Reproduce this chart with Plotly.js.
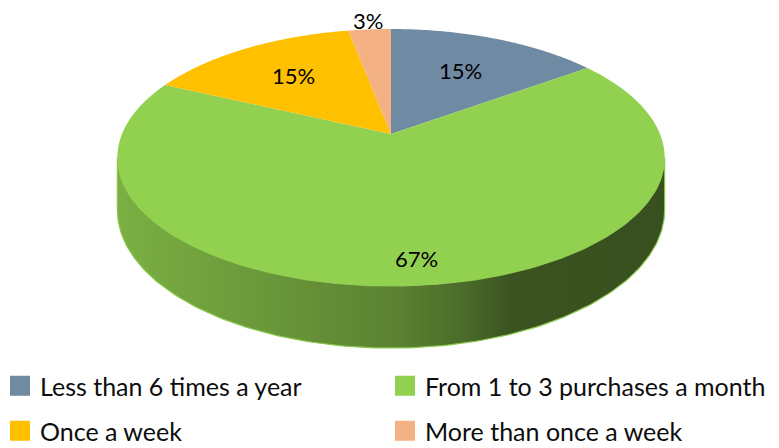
<!DOCTYPE html>
<html><head><meta charset="utf-8">
<script src="https://cdn.plot.ly/plotly-3.0.1.min.js"></script>
<style>html,body{margin:0;padding:0;background:#fff}#chart{width:779px;height:448px}</style>
</head><body><div id="chart"></div>
<script>
// ---- data ----
const categories = ["Less than 6 times a year", "From 1 to 3 purchases a month", "Once a week", "More than once a week"];
const values = [15, 67, 15, 3];
const colors = ["#6F8BA4", "#92D050", "#FFC000", "#F4B183"];

// ---- style ----
const labelRadius = [0.63, 0.85, 0.65, 1.1];
const legendOf = ["legend", "legend", "legend2", "legend2"];

const W = 779, H = 448;
const CX = 391, CY = 134, A = 269, B = 124.2, K = 0.183, T = 50.7;
const rad = d => d * Math.PI / 180;
function proj(theta, r) {
  const t = rad(theta);
  const u = r * Math.sin(t), v = r * Math.cos(t);
  const d = 1 + K * v;
  return [CX + A * u / d, CY - B * v / d];
}
function shade(hex, f) {
  const n = parseInt(hex.slice(1), 16);
  const r = Math.round(((n >> 16) & 255) * f), g = Math.round(((n >> 8) & 255) * f), b = Math.round((n & 255) * f);
  return `rgb(${r},${g},${b})`;
}
const total = values.reduce((a, b) => a + b, 0);
const starts = [];
let acc = 0;
values.forEach(v => { starts.push(acc / total * 360); acc += v; });

const traces = [];
// sides (front-facing part of the rim)
const ta = Math.acos(-K) * 180 / Math.PI, tb = 360 - ta;
values.forEach((v, i) => {
  const s = Math.max(starts[i], ta), e = Math.min(starts[i] + v / total * 360, tb);
  if (e <= s) return;
  const xs = [], ys = [], n = 160;
  for (let j = 0; j <= n; j++) { const th = s + (e - s) * j / n; const p = proj(th, 1); xs.push(p[0]); ys.push(p[1]); }
  for (let j = n; j >= 0; j--) { const th = s + (e - s) * j / n; const p = proj(th, 1); xs.push(p[0]); ys.push(p[1] + T / (1 + K * Math.cos(rad(th)))); }
  xs.push(xs[0]); ys.push(ys[0]);
  traces.push({
    type: "scatter", x: xs, y: ys, mode: "lines", fill: "toself",
    line: { color: shade(colors[i], 0.95), width: 1.2 },
    fillgradient: {
      type: "horizontal", start: CX - A * 1.02, stop: CX + A * 1.02,
      colorscale: [[0, shade(colors[i], 0.84)], [0.243, shade(colors[i], 0.74)], [0.5, shade(colors[i], 0.63)],
                   [0.63, shade(colors[i], 0.52)], [0.72, shade(colors[i], 0.40)], [1, shade(colors[i], 0.385)]]
    },
    hoverinfo: "skip", showlegend: false
  });
});
// top faces
values.forEach((v, i) => {
  const s = starts[i], e = s + v / total * 360;
  const xs = [CX], ys = [CY], n = Math.max(8, Math.round((e - s) * 2));
  for (let j = 0; j <= n; j++) { const p = proj(s + (e - s) * j / n, 1); xs.push(p[0]); ys.push(p[1]); }
  xs.push(CX); ys.push(CY);
  traces.push({
    type: "scatter", x: xs, y: ys, mode: "none", fill: "toself", fillcolor: colors[i],
    hoverinfo: "skip", showlegend: false
  });
});
// legend entries
categories.forEach((c, i) => {
  traces.push({
    type: "scatter", x: [null], y: [null], mode: "markers", name: c,
    marker: { symbol: "square", size: 16, color: colors[i], line: { color: colors[i], width: 4 } },
    legend: legendOf[i], showlegend: true
  });
});
// labels
const annotations = values.map((v, i) => {
  const mid = starts[i] + v / total * 180;
  const p = proj(mid, labelRadius[i]);
  return { x: p[0], y: p[1], xref: "x", yref: "y", text: Math.round(v / total * 100) + "%", showarrow: false,
           font: { family: "Lato", size: 22, color: "#000" } };
});

const legFont = { family: "Lato", size: 25, color: "#0d0d0d" };
const layout = {
  width: W, height: H, margin: { l: 0, r: 0, t: 0, b: 0, pad: 0, autoexpand: false },
  paper_bgcolor: "#fff", plot_bgcolor: "#fff",
  xaxis: { range: [0, W], visible: false, fixedrange: true },
  yaxis: { range: [H, 0], visible: false, fixedrange: true },
  showlegend: true,
  legend: { orientation: "h", x: 0, xanchor: "left", y: 1 - 386 / H, yanchor: "middle",
            entrywidth: 340, entrywidthmode: "pixels", font: legFont, bgcolor: "rgba(0,0,0,0)" },
  legend2: { orientation: "h", x: 0, xanchor: "left", y: 1 - 431 / H, yanchor: "middle",
             entrywidth: 340, entrywidthmode: "pixels", font: legFont, bgcolor: "rgba(0,0,0,0)" },
  annotations: annotations
};
Plotly.newPlot("chart", traces, layout, { staticPlot: true, displayModeBar: false });
</script></body></html>
